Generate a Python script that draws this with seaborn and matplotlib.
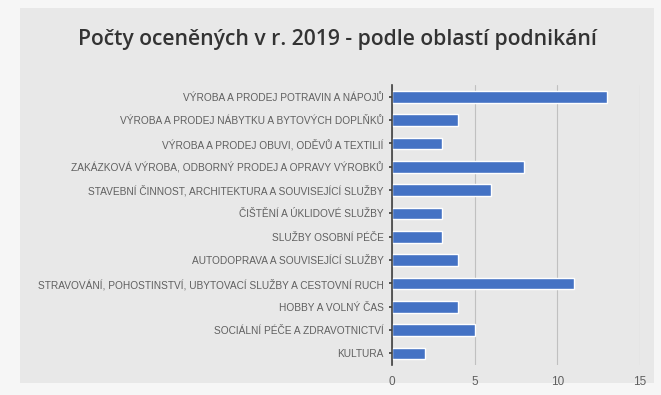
import matplotlib
matplotlib.use("Agg")
import matplotlib.pyplot as plt
import seaborn as sns
import pandas as pd

categories = [
    "VÝROBA A PRODEJ POTRAVIN A NÁPOJŮ",
    "VÝROBA A PRODEJ NÁBYTKU A BYTOVÝCH DOPLŇKŮ",
    "VÝROBA A PRODEJ OBUVI, ODĚVŮ A TEXTILIÍ",
    "ZAKÁZKOVÁ VÝROBA, ODBORNÝ PRODEJ A OPRAVY VÝROBKŮ",
    "STAVEBNÍ ČINNOST, ARCHITEKTURA A SOUVISEJÍCÍ SLUŽBY",
    "ČIŠTĚNÍ A ÚKLIDOVÉ SLUŽBY",
    "SLUŽBY OSOBNÍ PÉČE",
    "AUTODOPRAVA A SOUVISEJÍCÍ SLUŽBY",
    "STRAVOVÁNÍ, POHOSTINSTVÍ, UBYTOVACÍ SLUŽBY A CESTOVNÍ RUCH",
    "HOBBY A VOLNÝ ČAS",
    "SOCIÁLNÍ PÉČE A ZDRAVOTNICTVÍ",
    "KULTURA",
]
values = [13, 4, 3, 8, 6, 3, 3, 4, 11, 4, 5, 2]
x_ticks = [0, 5, 10, 15]
title = "Počty oceněných v r. 2019 - podle oblastí podnikání"

df = pd.DataFrame({"cat": categories, "val": values})

sns.set_theme(style="white")
plt.rcParams["font.family"] = ["Liberation Sans", "DejaVu Sans"]

fig = plt.figure(figsize=(6.61, 3.95), dpi=100)
fig.patch.set_facecolor("#f6f6f6")
bg = fig.add_axes([0.03, 0.03, 0.96, 0.95])
bg.set_facecolor("#e8e8e8")
bg.set_xticks([]); bg.set_yticks([])
for s in bg.spines.values():
    s.set_visible(False)
bg.set_zorder(0)

ax = fig.add_axes([392/661, 1 - 365/395, (640 - 392)/661, (365 - 85)/395])
ax.set_facecolor("none")
ax.set_zorder(1)
sns.barplot(data=df, x="val", y="cat", color="#4472c4", saturation=1,
            width=0.5, ax=ax, orient="h")
ax.set_xlim(0, 15)
ax.set_xticks(x_ticks)
ax.set_xlabel("")
ax.set_ylabel("")
ax.grid(axis="x", color="#c0c0c0", linewidth=0.8)
ax.set_axisbelow(True)
for s in ["top", "right", "bottom"]:
    ax.spines[s].set_visible(False)
ax.spines["left"].set_color("#404040")
ax.spines["left"].set_linewidth(1.2)
ax.tick_params(axis="y", labelsize=7.3, labelcolor="#606060", length=2,
               color="#404040", left=True, pad=4)
ax.tick_params(axis="x", labelsize=8.5, labelcolor="#606060", length=0, pad=8)

fig.text(0.510, 1 - 40/395, title, ha="center", va="center",
         fontsize=15.2, fontweight="semibold", color="#333333",
         family=["Open Sans", "DejaVu Sans"])

fig.savefig("out.png", dpi=100, facecolor=fig.get_facecolor())
